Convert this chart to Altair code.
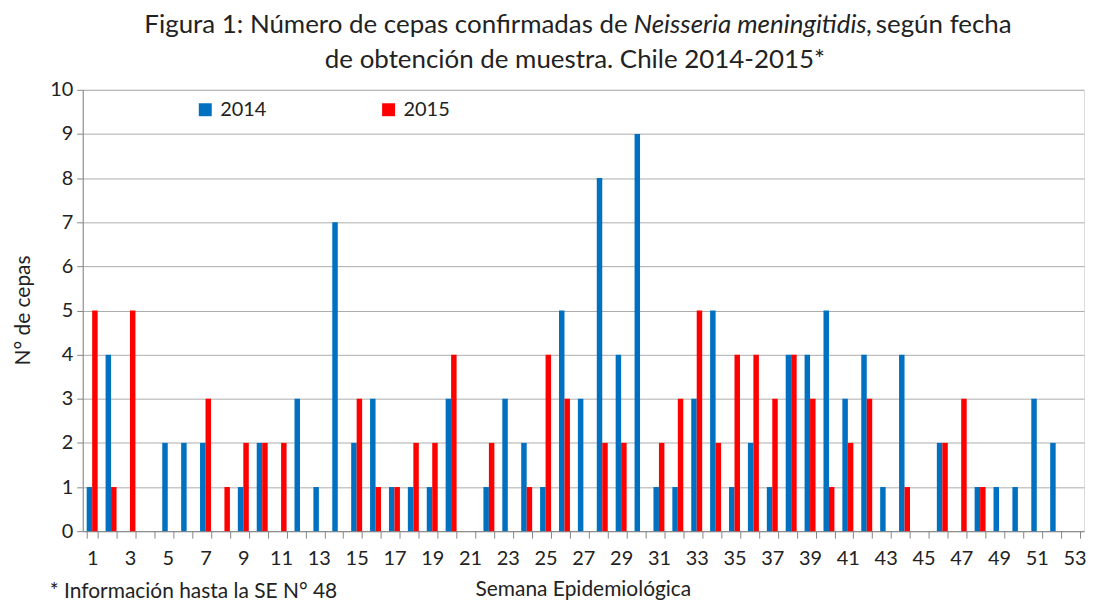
import altair as alt
import pandas as pd

weeks = list(range(1, 54))
cases_2014 = [1, 4, 0, 0, 2, 2, 2, 0, 1, 2, 0, 3, 1, 7, 2, 3, 1, 1, 1, 3,
              0, 1, 3, 2, 1, 5, 3, 8, 4, 9, 1, 1, 3, 5, 1, 2, 1, 4, 4, 5,
              3, 4, 1, 4, 0, 2, 0, 1, 1, 1, 3, 2, 0]
cases_2015 = [5, 1, 5, 0, 0, 0, 3, 1, 2, 2, 2, 0, 0, 0, 3, 1, 1, 2, 2, 4,
              0, 2, 0, 1, 4, 3, 0, 2, 2, 0, 2, 3, 5, 2, 4, 4, 3, 4, 3, 1,
              2, 3, 0, 1, 0, 2, 3, 1, 0, 0, 0, 0, 0]
years = ["2014", "2015"]
colors = ["#0070C0", "#FF0000"]
y_ticks = list(range(0, 11))

title_left = "Figura 1: Número de cepas confirmadas de"
title_italic = "Neisseria meningitidis,"
title_right = "según fecha"
title_line2 = "de obtención de muestra. Chile 2014-2015*"
footnote = "* Información hasta la SE N° 48"
x_title = "Semana Epidemiológica"
y_title = "N° de cepas"

rows = []
for w, a, b in zip(weeks, cases_2014, cases_2015):
    rows.append({"week": w, "year": years[0], "n": a})
    rows.append({"week": w, "year": years[1], "n": b})
df = pd.DataFrame(rows)

FONT = "Lato"
W, H = 1005, 443

bars = alt.Chart(df).mark_bar().encode(
    x=alt.X("week:O",
            scale=alt.Scale(paddingInner=0.42, paddingOuter=0.21),
            axis=alt.Axis(
                title=x_title, titleX=502, titleY=65, titleBaseline="alphabetic",
                titleFont=FONT, titleFontSize=21, titleFontWeight="normal",
                titleColor="#222",
                labelAngle=0, labelFont=FONT, labelFontSize=20, labelColor="#222",
                labelExpr="datum.value % 2 == 1 ? datum.label : ''",
                labelOverlap=False, labelPadding=10,
                tickBand="extent", tickSize=7, tickColor="#868686",
                domainColor="#868686", grid=False)),
    xOffset=alt.XOffset("year:N", scale=alt.Scale(domain=years, paddingInner=0, paddingOuter=0)),
    y=alt.Y("n:Q",
            scale=alt.Scale(domain=[0, 10], nice=False),
            axis=alt.Axis(
                values=y_ticks, title=y_title, titleX=-59, titleY=221,
                titleAngle=-90, titleBaseline="middle", titleAlign="center",
                titleFont=FONT, titleFontSize=21, titleFontWeight="normal",
                titleColor="#222",
                labelFont=FONT, labelFontSize=20, labelColor="#222", labelPadding=4,
                tickSize=6, tickColor="#868686", domainColor="#868686",
                gridColor="#ADADAD", gridWidth=1)),
    color=alt.Color("year:N",
                    scale=alt.Scale(domain=years, range=colors),
                    legend=alt.Legend(
                        title=None, orient="none", direction="horizontal",
                        legendX=113, legendY=10,
                        symbolType="square", symbolSize=169, symbolStrokeWidth=0,
                        labelFont=FONT, labelFontSize=20, labelColor="#222",
                        labelOffset=5, columnPadding=112, padding=0)),
)


def text_layer(txt, px, py, size, align="left", style="normal", angle=0):
    return alt.Chart(pd.DataFrame({"t": [txt]})).mark_text(
        font=FONT, fontSize=size, fontStyle=style, align=align,
        baseline="alphabetic", color="#222", angle=angle,
    ).encode(text="t:N", x=alt.value(px), y=alt.value(py))


titles = [
    text_layer(title_left, 547, -57, 26, align="right"),
    text_layer(title_italic, 553, -57, 26, style="italic"),
    text_layer(title_right, 796, -57, 26),
    text_layer(title_line2, 494, -22, 26, align="center"),
    text_layer(footnote, -33, 510, 21),
]

chart = alt.layer(bars, *titles).properties(
    width=W, height=H,
    autosize=alt.AutoSizeParams(type="none"),
    padding={"left": 75, "top": 81, "right": 2, "bottom": 75},
).configure_view(stroke=None).configure(font=FONT, background="white")

chart.save("out.html", embed_options={"renderer": "svg", "actions": False})
